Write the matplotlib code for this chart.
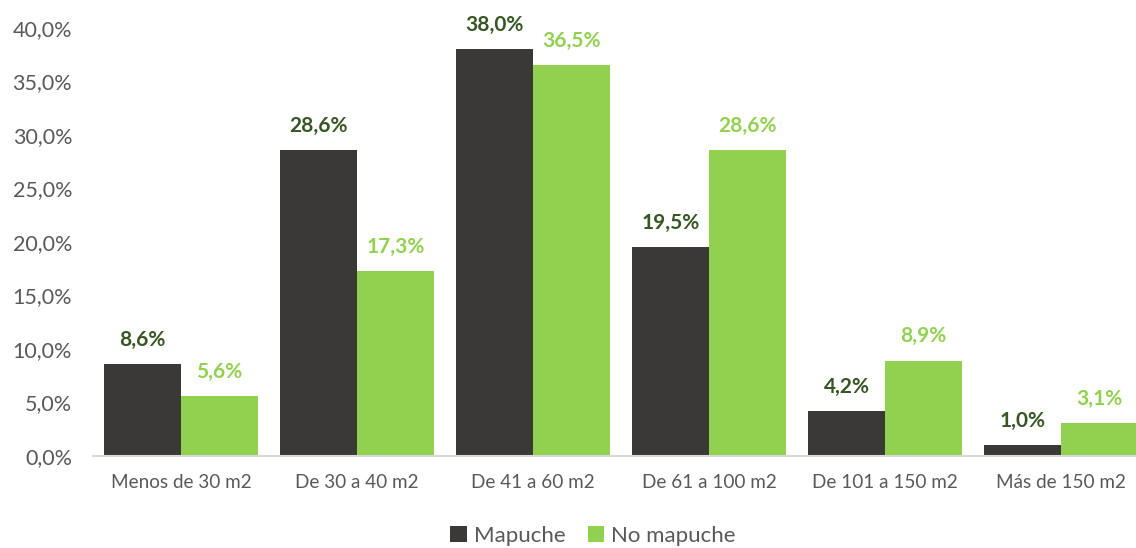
import matplotlib
matplotlib.use("Agg")
import matplotlib.pyplot as plt
import numpy as np
from matplotlib.ticker import FuncFormatter

categories = ["Menos de 30 m2", "De 30 a 40 m2", "De 41 a 60 m2",
              "De 61 a 100 m2", "De 101 a 150 m2", "Más de 150 m2"]
mapuche = [8.6, 28.6, 38.0, 19.5, 4.2, 1.0]
no_mapuche = [5.6, 17.3, 36.5, 28.6, 8.9, 3.1]
series_names = ["Mapuche", "No mapuche"]

plt.rcParams['font.family'] = ['Lato', 'DejaVu Sans']

fig = plt.figure(figsize=(11.36, 5.48), dpi=100)
ax = fig.add_axes([93/1136, 1-456/548, (1149-93)/1136, (456-28)/548])

x = np.arange(len(categories))
w = 0.4375
c1, c2 = "#3a3938", "#92d050"
b1 = ax.bar(x - w/2, mapuche, w, color=c1, label=series_names[0])
b2 = ax.bar(x + w/2, no_mapuche, w, color=c2, label=series_names[1])

def fmt(v):
    return f"{v:.1f}%".replace(".", ",")

for xi, v in zip(x - w/2, mapuche):
    ax.annotate(fmt(v), (xi, v), xytext=(0, 17.5), textcoords="offset points",
                ha="center", va="center", fontsize=15, fontweight="bold", color="#375623")
for xi, v in zip(x + w/2, no_mapuche):
    ax.annotate(fmt(v), (xi, v), xytext=(0, 17.5), textcoords="offset points",
                ha="center", va="center", fontsize=15, fontweight="bold", color="#92d050")

ax.set_xlim(-0.5, len(categories) - 0.5)
ax.set_ylim(0, 40)
ax.set_yticks(np.arange(0, 40.1, 5))
ax.yaxis.set_major_formatter(FuncFormatter(lambda v, p: fmt(v)))
ax.set_xticks(x)
ax.set_xticklabels(categories)
ax.tick_params(axis="both", length=0, colors="#595959")
ax.tick_params(axis="x", pad=13, labelsize=13.6)
ax.tick_params(axis="y", pad=15, labelsize=15.5)
for s in ["top", "right", "left"]:
    ax.spines[s].set_visible(False)
ax.spines["bottom"].set_color("#d9d9d9")
ax.spines["bottom"].set_linewidth(1.5)

leg = fig.legend(handles=[b1, b2], labels=series_names, loc="center",
                 bbox_to_anchor=(0.522, 1-536/548), ncol=2, frameon=False,
                 fontsize=16, handlelength=0.75, handleheight=0.75,
                 handletextpad=0.3, columnspacing=1.0)
for t in leg.get_texts():
    t.set_color("#595959")

fig.savefig("out.png", dpi=100)
